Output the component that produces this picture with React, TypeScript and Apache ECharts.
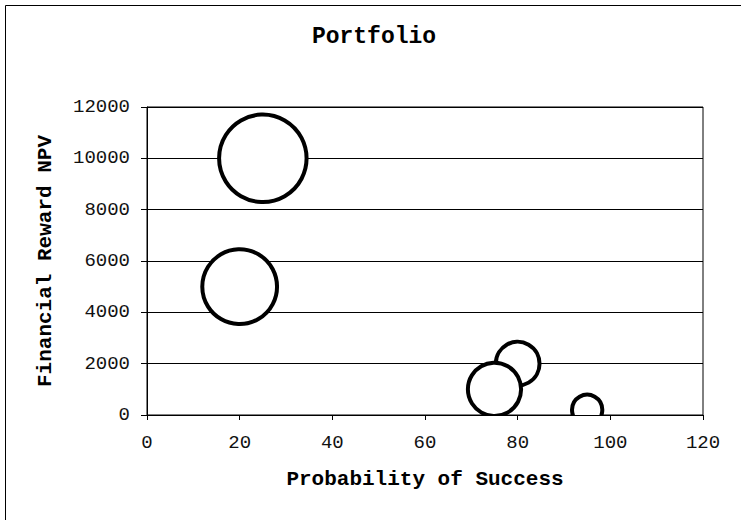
import React, { useEffect, useRef } from "react";
import * as echarts from "echarts";

const chartTitle = "Portfolio";
const xAxisName = "Probability of Success";
const yAxisName = "Financial Reward NPV";
const probability = [25, 20, 80, 75, 95];
const npv = [10000, 5000, 2000, 1000, 200];
const bubbleSize = [10, 7.3, 2.5, 3.7, 1.2];
const xTicks = { min: 0, max: 120, interval: 20 };
const yTicks = { min: 0, max: 12000, interval: 2000 };

const FONT = "'Liberation Mono', 'Courier New', monospace";
const MAX_DIAMETER = 87.5;

export default function App() {
  const ref = useRef<HTMLDivElement>(null);
  useEffect(() => {
    if (!ref.current) return;
    const chart = echarts.init(ref.current, undefined, { renderer: "svg" });
    const maxSize = Math.max(...bubbleSize);
    const data = probability.map((p, i) => [p, npv[i], bubbleSize[i]]);
    chart.setOption({
      animation: false,
      backgroundColor: "#fff",
      title: {
        text: chartTitle,
        left: 374,
        top: 25,
        textAlign: "center",
        padding: 0,
        textStyle: { fontFamily: FONT, fontWeight: "bold", fontSize: 23, color: "#000" },
      },
      graphic: [
        {
          type: "rect",
          shape: { x: 5.5, y: 5.5, width: 800, height: 600 },
          style: { fill: "none", stroke: "#000", lineWidth: 1 },
          silent: true,
        },
      ],
      grid: {
        left: 147,
        right: 38,
        top: 107,
        bottom: 105,
        show: true,
        borderColor: "#000",
        borderWidth: 1,
        backgroundColor: "transparent",
      },
      xAxis: {
        type: "value",
        min: xTicks.min,
        max: xTicks.max,
        interval: xTicks.interval,
        name: xAxisName,
        nameLocation: "middle",
        nameGap: 54,
        nameTextStyle: { fontFamily: FONT, fontWeight: "bold", fontSize: 21, color: "#000" },
        axisLine: { show: true, lineStyle: { color: "#000", width: 1 } },
        axisTick: { show: true, length: 5, lineStyle: { color: "#000" } },
        axisLabel: {
          margin: 18,
          fontFamily: FONT,
          fontSize: 19,
          color: "#111",
          formatter: (v: number) => String(v),
        },
        splitLine: { show: false },
      },
      yAxis: {
        type: "value",
        min: yTicks.min,
        max: yTicks.max,
        interval: yTicks.interval,
        name: yAxisName,
        nameLocation: "middle",
        nameGap: 91,
        nameTextStyle: { fontFamily: FONT, fontWeight: "bold", fontSize: 21, color: "#000" },
        axisLine: { show: true, lineStyle: { color: "#000", width: 1 } },
        axisTick: { show: true, length: 6, lineStyle: { color: "#000" } },
        axisLabel: {
          margin: 17,
          fontFamily: FONT,
          fontSize: 19,
          color: "#111",
          formatter: (v: number) => String(v),
        },
        splitLine: { show: true, lineStyle: { color: "#000", width: 1 } },
      },
      series: [
        {
          type: "custom",
          clip: true,
          data,
          renderItem: (params: any, api: any) => {
            const c = api.coord([api.value(0), api.value(1)]);
            const r = (MAX_DIAMETER / 2) * Math.sqrt(api.value(2) / maxSize);
            return {
              type: "circle",
              shape: { cx: c[0], cy: c[1], r },
              style: { fill: "#fff", stroke: "#000", lineWidth: 4 },
            };
          },
        },
      ],
    });
    return () => chart.dispose();
  }, []);
  return (
    <div
      ref={ref}
      style={{ position: "absolute", left: 0, top: 0, width: 741, height: 520, background: "#fff" }}
    />
  );
}
